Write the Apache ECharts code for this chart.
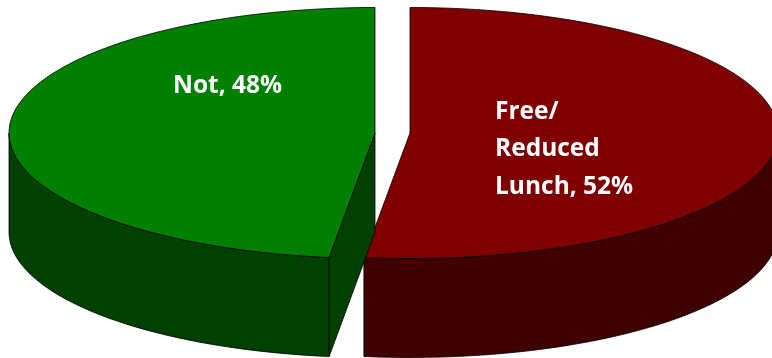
<!DOCTYPE html>
<html>
<head>
<meta charset="utf-8">
<style>html,body{margin:0;padding:0;background:#fff}#chart{width:772px;height:358px}</style>
<script src="https://cdn.jsdelivr.net/npm/echarts@6/dist/echarts.min.js"></script>
</head>
<body>
<div id="chart"></div>
<script>
// Lunch status of students, clockwise from twelve o'clock.
const categories = ['Free/\nReduced\nLunch', 'Not'];
const shares = [52, 48];

const topColors = ['#800000', '#008000'];
const sideColors = ['#400000', '#004000'];
const outline = '#000000';

// Exploded tilted-disc geometry: each slice has its own apex and horizontal radius.
const apexX = [410, 375];
const apexY = 133;
const radiusX = [368, 366];
const radiusY = 125.5;
const depth = 99;
const labelAnchors = [[495, 93], [173, 67]];
const labelFont = '700 24.5px "Open Sans", sans-serif';
const labelLineHeight = 37.5;

const total = shares.reduce((a, b) => a + b, 0);

function rimPoint(i, deg, drop) {
  const r = deg * Math.PI / 180;
  return [apexX[i] + radiusX[i] * Math.sin(r), apexY - radiusY * Math.cos(r) + drop];
}

function arc(i, from, to, drop) {
  const pts = [];
  const steps = Math.max(2, Math.ceil(Math.abs(to - from) / 2));
  for (let k = 0; k <= steps; k++) {
    pts.push(rimPoint(i, from + (to - from) * k / steps, drop));
  }
  return pts;
}

function poly(points, fill) {
  return {
    type: 'polygon',
    shape: { points },
    style: { fill, stroke: outline, lineWidth: 0.8, lineJoin: 'round' }
  };
}

function renderSlice(params, api) {
  const i = params.dataIndex;
  const before = shares.slice(0, i).reduce((a, b) => a + b, 0);
  const start = before / total * 360;
  const end = start + api.value(0) / total * 360;
  const cx = apexX[i];
  const children = [];

  // The outer wall shows only on the near half of the rim (90° to 270°).
  const wallFrom = Math.max(start, 90);
  const wallTo = Math.min(end, 270);
  if (wallTo > wallFrom) {
    const upper = arc(i, wallFrom, wallTo, 0);
    const lower = arc(i, wallTo, wallFrom, depth);
    children.push(poly(upper.concat(lower), sideColors[i]));
  }

  // A cut face shows when its edge faces the viewer: the leading edge of the left-hand slice.
  if (start > 90 && start < 270) {
    const rim = rimPoint(i, start, 0);
    const rimLow = rimPoint(i, start, depth);
    children.push(poly([[cx, apexY], rim, rimLow, [cx, apexY + depth]], sideColors[i]));
  }

  children.push(poly([[cx, apexY]].concat(arc(i, start, end, 0)), topColors[i]));

  children.push({
    type: 'text',
    x: labelAnchors[i][0],
    y: labelAnchors[i][1],
    z2: 10,
    style: {
      text: categories[i] + ', ' + api.value(0) + '%',
      fill: '#ffffff',
      font: labelFont,
      lineHeight: labelLineHeight,
      align: 'left',
      verticalAlign: 'top'
    }
  });

  return { type: 'group', children };
}

const chart = echarts.init(document.getElementById('chart'), null, { renderer: 'canvas' });
chart.setOption({
  animation: false,
  backgroundColor: '#ffffff',
  series: [{
    type: 'custom',
    coordinateSystem: 'none',
    silent: true,
    renderItem: renderSlice,
    data: shares.map((v, i) => ({ name: categories[i], value: [v] }))
  }]
});
</script>
</body>
</html>
